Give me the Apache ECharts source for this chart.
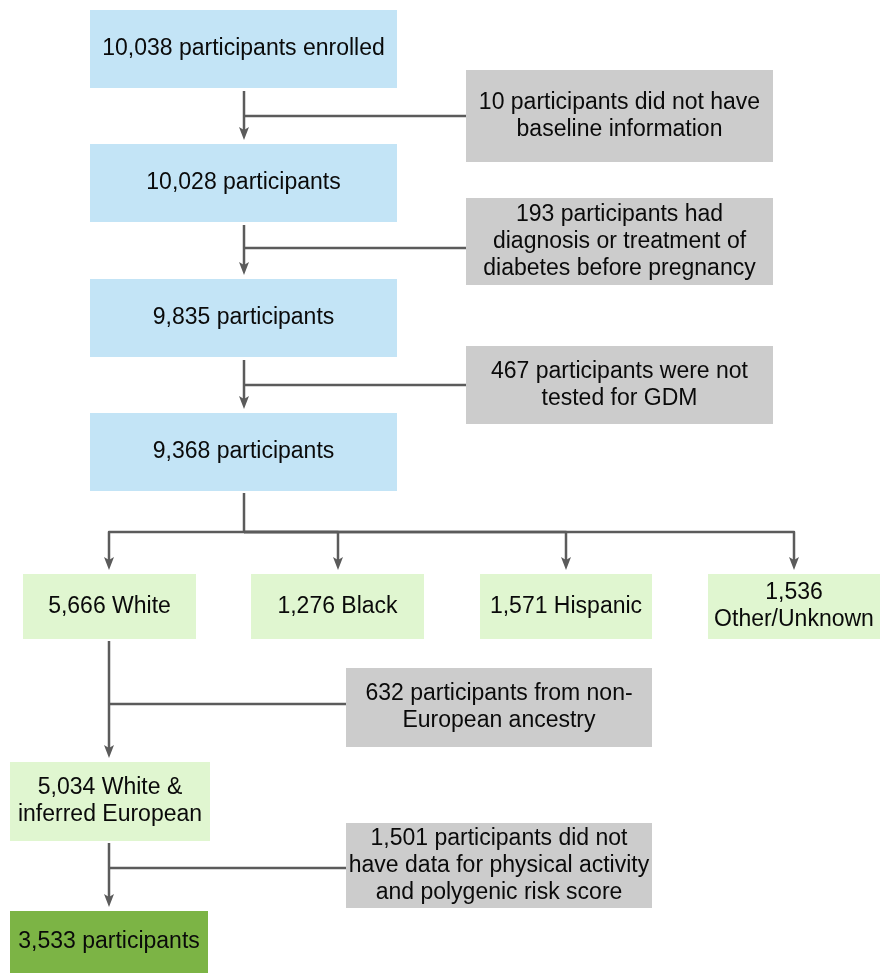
<!DOCTYPE html>
<html>
<head>
<meta charset="utf-8">
<script src="https://cdn.jsdelivr.net/npm/echarts@6/dist/echarts.min.js"></script>
<style>
  html, body { margin: 0; padding: 0; background: #fff; }
  #chart { width: 881px; height: 973px; }
</style>
</head>
<body>
<div id="chart"></div>
<script>
// box labels
const boxLabels = [
  '10,038 participants enrolled',
  '10 participants did not have\nbaseline information',
  '10,028 participants',
  '193 participants had\ndiagnosis or treatment of\ndiabetes before pregnancy',
  '9,835 participants',
  '467 participants were not\ntested for GDM',
  '9,368 participants',
  '5,666 White',
  '1,276 Black',
  '1,571 Hispanic',
  '1,536\nOther/Unknown',
  '632 participants from non-\nEuropean ancestry',
  '5,034 White &\ninferred European',
  '1,501 participants did not\nhave data for physical activity\nand polygenic risk score',
  '3,533 participants'
]
// box kind: 0 main, 1 excluded, 2 subgroup, 3 final
const boxKind = [0, 1, 0, 1, 0, 1, 0, 2, 2, 2, 2, 1, 2, 1, 3]
// box extents in diagram units [x0, y0, x1, y1]
const boxExtent = [
  [90, 10, 397, 88],
  [466, 70, 773, 162],
  [90, 144, 397, 222],
  [466, 198, 773, 285],
  [90, 279, 397, 357],
  [466, 346, 773, 424],
  [90, 413, 397, 491],
  [23, 574, 196, 639],
  [251, 574, 424, 639],
  [480, 574, 652, 639],
  [708, 574, 880, 639],
  [346, 668, 652, 747],
  [10, 762, 210, 841],
  [346, 823, 652, 908],
  [10, 911, 208, 973]
]
// flow arrows (polylines ending in arrow heads)
const arrowPaths = [
  [[244, 91], [244, 140]],
  [[244, 225], [244, 275]],
  [[244, 360], [244, 409]],
  [[244, 493], [244, 532], [109, 532], [109, 570]],
  [[244, 532], [338, 532], [338, 570]],
  [[244, 532], [566, 532], [566, 570]],
  [[244, 532], [794, 532], [794, 570]],
  [[109, 641], [109, 758]],
  [[109, 843], [109, 907]]
]
// exclusion side branches (plain lines)
const sidePaths = [
  [[244, 116], [466, 116]],
  [[244, 248], [466, 248]],
  [[244, 385], [466, 385]],
  [[109, 704], [346, 704]],
  [[109, 868], [346, 868]]
]

const FILL = ['#c3e4f6', '#cccccc', '#e0f6d0', '#7cb445']
const LINE = '#5b5b5b'

const chart = echarts.init(document.getElementById('chart'))

function pathItem(paths, withHead) {
  return (params, api) => {
    const pts = paths[params.dataIndex].map((p) => api.coord(p))
    const children = [{
      type: 'polyline',
      shape: { points: pts, smooth: 0 },
      style: { stroke: LINE, lineWidth: 2.5, fill: null, lineJoin: 'round' }
    }]
    if (withHead) {
      const tip = pts[pts.length - 1]
      children.push({
        type: 'polygon',
        shape: { points: [[tip[0] - 5, tip[1] - 13], [tip[0], tip[1] - 10], [tip[0] + 5, tip[1] - 13], [tip[0], tip[1]]] },
        style: { fill: LINE }
      })
      children[0].shape.points = pts.slice(0, -1).concat([[tip[0], tip[1] - 10]])
    }
    return { type: 'group', children }
  }
}

chart.setOption({
  animation: false,
  grid: { left: 0, right: 0, top: 0, bottom: 0 },
  xAxis: { type: 'value', min: 0, max: 881, show: false },
  yAxis: { type: 'value', min: 0, max: 973, inverse: true, show: false },
  series: [
    {
      type: 'custom',
      coordinateSystem: 'cartesian2d',
      data: sidePaths.map((p) => p[0]),
      renderItem: pathItem(sidePaths, false),
      z: 1
    },
    {
      type: 'custom',
      coordinateSystem: 'cartesian2d',
      data: arrowPaths.map((p) => p[0]),
      renderItem: pathItem(arrowPaths, true),
      z: 1
    },
    {
      type: 'custom',
      coordinateSystem: 'cartesian2d',
      encode: { x: [0, 2], y: [1, 3] },
      data: boxExtent.map((e, i) => [e[0], e[1], e[2], e[3], i]),
      z: 2,
      renderItem(params, api) {
        const p0 = api.coord([api.value(0), api.value(1)])
        const p1 = api.coord([api.value(2), api.value(3)])
        const i = api.value(4)
        return {
          type: 'group',
          children: [
            {
              type: 'rect',
              shape: { x: p0[0], y: p0[1], width: p1[0] - p0[0], height: p1[1] - p0[1] },
              style: { fill: FILL[boxKind[i]] }
            },
            {
              type: 'text',
              x: (p0[0] + p1[0]) / 2,
              y: (p0[1] + p1[1]) / 2,
              style: {
                text: boxLabels[i],
                fill: '#0a0a0a',
                fontSize: 23,
                fontFamily: 'Liberation Sans',
                lineHeight: 27,
                align: 'center',
                verticalAlign: 'middle'
              }
            }
          ]
        }
      }
    }
  ]
})
</script>
</body>
</html>
